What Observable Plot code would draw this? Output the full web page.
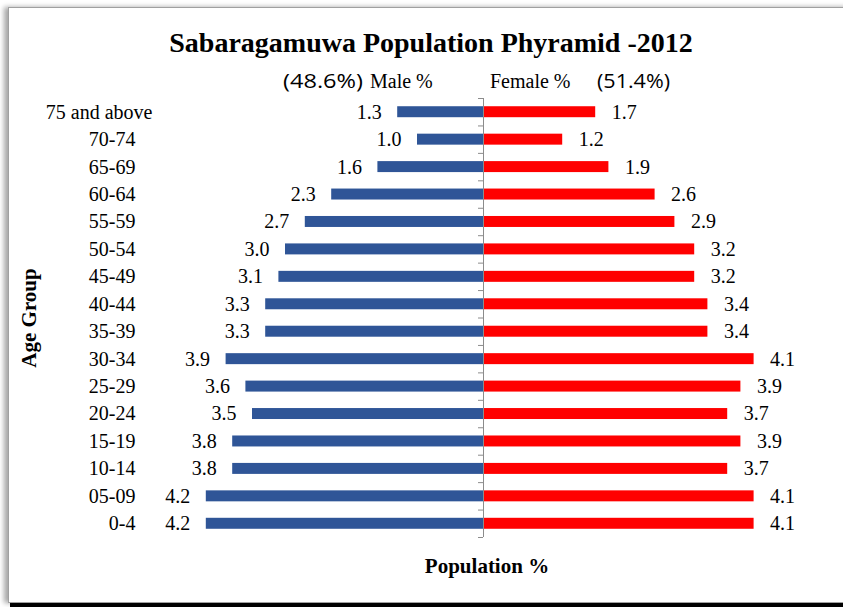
<!DOCTYPE html>
<html>
<head>
<meta charset="utf-8">
<script src="https://cdn.jsdelivr.net/npm/d3@7"></script>
<script src="https://cdn.jsdelivr.net/npm/@observablehq/plot@0.6"></script>
<style>
  body { margin: 0; background: #fff; }
  #wrap { position: relative; width: 843px; height: 607px; overflow: hidden; background: #fff; }
  #frame { position: absolute; left: 8px; top: 7px; width: 900px; height: 594px;
           border: 1px solid #a0a0a0; box-shadow: -4px 0 5px rgba(0,0,0,0.35); background: #fff; }
  #shade { position: absolute; left: 10px; top: 603px; width: 900px; height: 6px; background: #000; }
  #wrap svg { position: absolute; left: 0; top: 0; }
</style>
</head>
<body>
<div id="wrap"><div id="frame"></div><div id="shade"></div></div>
<script>
const ages = ["75 and above","70-74","65-69","60-64","55-59","50-54","45-49","40-44",
              "35-39","30-34","25-29","20-24","15-19","10-14","05-09","0-4"];
const male   = [1.3,1.0,1.6,2.3,2.7,3.0,3.1,3.3,3.3,3.9,3.6,3.5,3.8,3.8,4.2,4.2];
const female = [1.7,1.2,1.9,2.6,2.9,3.2,3.2,3.4,3.4,4.1,3.9,3.7,3.9,3.7,4.1,4.1];
const title = "Sabaragamuwa Population Phyramid -2012";
const maleShare = "(48.6%)", femaleShare = "(51.4%)";
const maleLabel = "Male %", femaleLabel = "Female %";
const yTitle = "Age Group", xTitle = "Population %";

const rows = ages.map((a, i) => ({age: a, male: male[i], female: female[i]}));

const W = 843, H = 607, mT = 98, mB = 70, mL = 186, mR = 63;
const step = (H - mT - mB) / ages.length;
const xDomain = [-4.5, 4.5];
const pxPerUnit = (W - mL - mR) / (xDomain[1] - xDomain[0]);
const tickLen = 5 / pxPerUnit;
const serif = "'Liberation Serif', 'Times New Roman', serif";
const sans = "'Open Sans', Lato, sans-serif";

const chart = Plot.plot({
  width: W, height: H,
  marginTop: mT, marginBottom: mB, marginLeft: mL, marginRight: mR,
  style: {fontFamily: serif, fontSize: "20px", color: "#000", background: "transparent", overflow: "visible"},
  x: {domain: xDomain, axis: null},
  y: {domain: ages, paddingInner: 0.6, paddingOuter: 0.3, round: false, axis: null},
  marks: [
    Plot.barX(rows, {x1: 0, x2: d => -d.male, y: "age", fill: "#2F5597"}),
    Plot.barX(rows, {x1: 0, x2: "female", y: "age", fill: "#FF0000"}),
    Plot.ruleX([0], {stroke: "#8c8c8c", strokeWidth: 1}),
    Plot.ruleY(ages, {y: d => d, x1: -tickLen, x2: 0, dy: step / 2, stroke: "#8c8c8c"}),
    Plot.ruleY([ages[0]], {y: d => d, x1: -tickLen, x2: 0, dy: -step / 2, stroke: "#8c8c8c"}),
    Plot.text(rows, {x: d => -d.male, y: "age", text: d => d.male.toFixed(1),
                     textAnchor: "end", dx: -16, fontSize: 20, fill: "#000"}),
    Plot.text(rows, {x: "female", y: "age", text: d => d.female.toFixed(1),
                     textAnchor: "start", dx: 16, fontSize: 20, fill: "#000"}),
    Plot.axisY(ages.slice(1), {tickSize: 0, tickPadding: 51, fontSize: 20, label: null, fill: "#000"}),
    Plot.axisY(ages.slice(0, 1), {tickSize: 0, tickPadding: 34, fontSize: 20, label: null, fill: "#000"})
  ]
});
document.getElementById("wrap").appendChild(chart);

// Overlay titles
const ov = d3.select("#wrap").append("svg")
  .attr("width", W).attr("height", H).style("pointer-events", "none");
ov.append("text").attr("x", 431).attr("y", 52).attr("text-anchor", "middle")
  .attr("font-family", serif).attr("font-weight", "bold").attr("font-size", 28).text(title);
ov.append("text").attr("x", 283).attr("y", 88)
  .attr("textLength", 80).attr("lengthAdjust", "spacingAndGlyphs")
  .attr("font-family", sans).attr("font-size", 20).text(maleShare);
ov.append("text").attr("x", 370).attr("y", 88)
  .attr("font-family", serif).attr("font-size", 20).text(maleLabel);
ov.append("text").attr("x", 490).attr("y", 88)
  .attr("font-family", serif).attr("font-size", 20).text(femaleLabel);
ov.append("text").attr("x", 597).attr("y", 88)
  .attr("textLength", 73).attr("lengthAdjust", "spacingAndGlyphs")
  .attr("font-family", sans).attr("font-size", 20).text(femaleShare);
ov.append("text").attr("transform", "translate(36,318) rotate(-90)").attr("text-anchor", "middle")
  .attr("font-family", serif).attr("font-weight", "bold").attr("font-size", 21).text(yTitle);
ov.append("text").attr("x", 487).attr("y", 573).attr("text-anchor", "middle")
  .attr("font-family", serif).attr("font-weight", "bold").attr("font-size", 21).text(xTitle);
</script>
</body>
</html>
